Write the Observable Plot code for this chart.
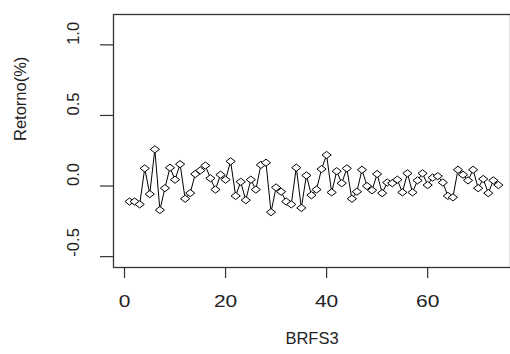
<!DOCTYPE html>
<html><head><meta charset="utf-8">
<script src="https://cdn.jsdelivr.net/npm/d3@7"></script>
<script src="https://cdn.jsdelivr.net/npm/@observablehq/plot@0.6"></script>
<style>body{margin:0;background:#fff} svg{display:block}</style>
</head><body><div id="chart"></div>
<script>
const retorno = [-0.11,-0.11,-0.13,0.125,-0.057,0.26,-0.17,-0.015,0.13,0.045,
  0.155,-0.09,-0.05,0.085,0.11,0.145,0.055,-0.025,0.08,0.045,
  0.175,-0.07,0.03,-0.10,0.045,-0.025,0.15,0.165,-0.185,-0.01,
  -0.04,-0.11,-0.13,0.13,-0.155,0.075,-0.065,-0.025,0.12,0.22,
  -0.045,0.105,0.02,0.125,-0.09,-0.04,0.115,0.0,-0.03,0.085,
  -0.05,0.025,0.02,0.045,-0.045,0.09,-0.045,0.04,0.09,0.007,
  0.06,0.07,0.025,-0.07,-0.08,0.115,0.08,0.04,0.115,-0.015,
  0.05,-0.05,0.04,0.007];
const xTicks = [0, 20, 40, 60];
const yTicks = [-0.5, 0, 0.5, 1.0];
const yTickLabels = ["-0.5", "0.0", "0.5", "1.0"];
const xLabel = "BRFS3";
const yLabel = "Retorno(%)";

const data = retorno.map((v, i) => ({t: i + 1, v}));
const diamond = {draw(ctx, size) {
  const r = Math.sqrt(size / Math.PI);
  const w = r * 1.15, h = r * 0.9;
  ctx.moveTo(-w, 0); ctx.lineTo(0, -h); ctx.lineTo(w, 0); ctx.lineTo(0, h); ctx.closePath();
}};

const chart = Plot.plot({
  width: 510, height: 354,
  marginLeft: 113, marginTop: 14, marginBottom: 87, marginRight: 0,
  style: {fontFamily: "'Liberation Sans', Arial, sans-serif", fontSize: "16.5px", color: "#222", background: "#fff"},
  x: {domain: [-2.18, 76.4]},
  y: {domain: [-0.577, 1.215]},
  marks: [
    Plot.frame({stroke: "#333", strokeWidth: 1.3}),
    Plot.axisX({ticks: xTicks, tickSize: 11, tickPadding: 17, label: null, stroke: "#333", strokeWidth: 1.2}),
    Plot.axisY({ticks: yTicks, tickSize: 13, tickFormat: () => "", label: null, stroke: "#333", strokeWidth: 1.2}),
    Plot.text(yTicks, {y: d => d, text: (d, i) => yTickLabels[i], frameAnchor: "left", dx: -40, rotate: -90, ariaLabel: "ytl"}),
    Plot.text([xLabel], {frameAnchor: "bottom", dy: 76, ariaLabel: "xlab"}),
    Plot.text([yLabel], {frameAnchor: "left", dx: -93, rotate: -90, ariaLabel: "ylab"}),
    Plot.line(data, {x: "t", y: "v", stroke: "#000", strokeWidth: 1}),
    Plot.dot(data, {x: "t", y: "v", symbol: diamond, r: 4, stroke: "#000", fill: "#fff", strokeWidth: 1})
  ]
});
document.getElementById("chart").append(chart);

const sx = 1.27;
d3.select(chart).selectAll('g[aria-label="x-axis tick label"] text, g[aria-label="xlab"] text').each(function() {
  const len = this.getComputedTextLength();
  this.setAttribute("textLength", len * sx);
  this.setAttribute("lengthAdjust", "spacingAndGlyphs");
});
d3.select(chart).selectAll('g[aria-label="ytl"] text, g[aria-label="ylab"] text').each(function() {
  const t = this.getAttribute("transform") || "";
  this.setAttribute("transform", t + ` scale(1,${sx})`);
});
</script>
</body></html>
